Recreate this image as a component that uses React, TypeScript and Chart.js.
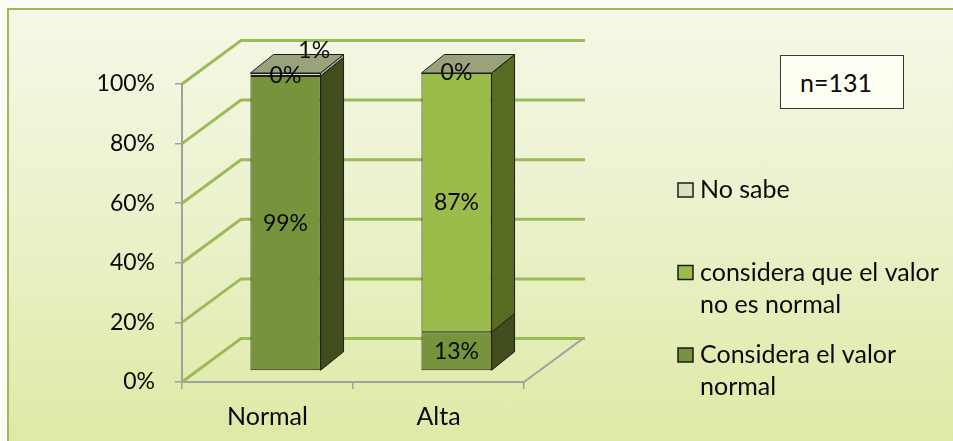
import React, { useEffect, useRef } from "react";
import { Chart, registerables } from "chart.js";

Chart.register(...registerables);

// ---------- data ----------
const categories = ["Normal", "Alta"];
const consideraNormal = [99, 13];
const consideraNoNormal = [0, 87];
const noSabe = [1, 0];
const seriesNames = [
  "Considera el valor normal",
  "considera que el valor no es normal",
  "No sabe",
];
const legendLines = [
  ["Considera el valor", "normal"],
  ["considera que el valor", "no es normal"],
  ["No sabe"],
];
const yTickValues = [0, 20, 40, 60, 80, 100];
const sampleNote = "n=131";

// ---------- style ----------
const FONT = 'Lato, "Open Sans", "DejaVu Sans", sans-serif';
const TEXT_SIZE = 25;
const DIGIT_SIZE = 23;
const frontColors = ["#77933c", "#9bbb4b", "#d7e4bd"];
const sideColors = ["#414d1c", "#576b21", "#aab58f"];
const TOP_COLOR = "#98a37b";
const EDGE = "#1c1c1c";
const GRID_GREEN = "#9bbb59";
const AXIS_GRAY = "#a0a0a0";
const TEXT = "#0a0a0a";

const BAR_SHIFT = { x: 18, y: -11 };
const BAR_DEPTH = { x: 23, y: -18.5 };
const WALL_DEPTH = { x: 59, y: -43.5 };

const LEGEND = { boxX: 678, textX: 700, firstY: 190, itemGap: 82.5, lineH: 32, boxW: 15, boxH: 14 };

function poly(ctx: CanvasRenderingContext2D, pts: number[][], fill: string) {
  ctx.beginPath();
  ctx.moveTo(pts[0][0], pts[0][1]);
  for (let i = 1; i < pts.length; i++) ctx.lineTo(pts[i][0], pts[i][1]);
  ctx.closePath();
  ctx.fillStyle = fill;
  ctx.fill();
  ctx.lineWidth = 1;
  ctx.strokeStyle = EDGE;
  ctx.stroke();
}

const threeD = {
  id: "threeD",
  beforeDatasetsDraw(chart: any) {
    const { ctx, chartArea: a } = chart;
    const y = chart.scales.y;
    ctx.save();
    ctx.lineWidth = 3;
    ctx.strokeStyle = GRID_GREEN;
    for (const v of yTickValues) {
      const py = y.getPixelForValue(v);
      ctx.beginPath();
      ctx.moveTo(a.left, py);
      ctx.lineTo(a.left + WALL_DEPTH.x, py + WALL_DEPTH.y);
      ctx.lineTo(a.right + WALL_DEPTH.x + 2, py + WALL_DEPTH.y);
      ctx.stroke();
    }
    const p0 = y.getPixelForValue(0);
    ctx.lineWidth = 2;
    ctx.strokeStyle = AXIS_GRAY;
    ctx.beginPath();
    ctx.moveTo(a.right, p0);
    ctx.lineTo(a.right + WALL_DEPTH.x, p0 + WALL_DEPTH.y);
    ctx.stroke();
    ctx.restore();
    ctx.save();
    ctx.translate(BAR_SHIFT.x, BAR_SHIFT.y);
  },
  afterDatasetsDraw(chart: any) {
    const ctx: CanvasRenderingContext2D = chart.ctx;
    ctx.restore();
    ctx.save();
    const last = chart.data.datasets.length - 1;
    const boxes: any[] = [];
    chart.data.datasets.forEach((ds: any, i: number) => {
      const meta = chart.getDatasetMeta(i);
      meta.data.forEach((el: any, j: number) => {
        const { x, y, base, width } = el.getProps(["x", "y", "base", "width"], true);
        const top = Math.min(y, base) + BAR_SHIFT.y;
        const bottom = Math.max(y, base) + BAR_SHIFT.y;
        const left = x - width / 2 + BAR_SHIFT.x;
        const right = x + width / 2 + BAR_SHIFT.x;
        poly(ctx, [
          [right, top],
          [right + BAR_DEPTH.x, top + BAR_DEPTH.y],
          [right + BAR_DEPTH.x, bottom + BAR_DEPTH.y],
          [right, bottom],
        ], sideColors[i]);
        if (i === last) {
          poly(ctx, [
            [left, top],
            [left + BAR_DEPTH.x, top + BAR_DEPTH.y],
            [right + BAR_DEPTH.x, top + BAR_DEPTH.y],
            [right, top],
          ], TOP_COLOR);
        }
        boxes.push({ i, j, v: ds.data[j], cx: x + BAR_SHIFT.x, cy: (top + bottom) / 2, top });
      });
    });
    ctx.font = `${DIGIT_SIZE}px ${FONT}`;
    ctx.textAlign = "center";
    ctx.textBaseline = "middle";
    ctx.fillStyle = TEXT;
    for (const b of boxes) {
      let cx = b.cx;
      let cy = b.cy;
      if (b.i === last && b.v > 0) {
        cx += BAR_DEPTH.x * 1.25;
        cy = b.top + BAR_DEPTH.y * 1.2;
      }
      ctx.fillText(`${b.v}%`, cx, cy);
    }
    ctx.restore();
  },
  afterDraw(chart: any) {
    const ctx: CanvasRenderingContext2D = chart.ctx;
    ctx.save();
    ctx.font = `${TEXT_SIZE}px ${FONT}`;
    ctx.textAlign = "left";
    ctx.textBaseline = "middle";
    const n = chart.data.datasets.length;
    for (let k = 0; k < n; k++) {
      const i = n - 1 - k;
      const yc = LEGEND.firstY + k * LEGEND.itemGap;
      ctx.fillStyle = frontColors[i];
      ctx.fillRect(LEGEND.boxX, yc - LEGEND.boxH / 2, LEGEND.boxW, LEGEND.boxH);
      ctx.lineWidth = 1.5;
      ctx.strokeStyle = EDGE;
      ctx.strokeRect(LEGEND.boxX, yc - LEGEND.boxH / 2, LEGEND.boxW, LEGEND.boxH);
      ctx.fillStyle = TEXT;
      legendLines[i].forEach((line, l) => {
        ctx.fillText(line, LEGEND.textX, yc + l * LEGEND.lineH);
      });
    }
    ctx.restore();
  },
};

export default function App() {
  const ref = useRef<HTMLCanvasElement | null>(null);

  useEffect(() => {
    if (!ref.current) return;
    Chart.defaults.font.family = FONT;
    const datasets = [consideraNormal, consideraNoNormal, noSabe].map((d, i) => ({
      label: seriesNames[i],
      data: d,
      backgroundColor: frontColors[i],
      borderColor: EDGE,
      borderWidth: 1,
      borderSkipped: false as any,
      barPercentage: 0.41,
      categoryPercentage: 1,
      clip: false as any,
    }));
    const chart = new Chart(ref.current, {
      type: "bar",
      data: { labels: categories, datasets },
      plugins: [threeD],
      options: {
        animation: false,
        responsive: false,
        maintainAspectRatio: false,
        layout: { padding: { left: 0, top: 84, right: 429, bottom: 0 } },
        plugins: { legend: { display: false }, tooltip: { enabled: false } },
        scales: {
          x: {
            stacked: true,
            grid: { display: true, drawOnChartArea: false, drawTicks: true, tickLength: 7, color: AXIS_GRAY, lineWidth: 1.5 },
            border: { display: true, color: AXIS_GRAY, width: 2 },
            ticks: { color: TEXT, font: { size: TEXT_SIZE, family: FONT }, padding: 13 },
            afterFit: (s: any) => { s.height = 59; },
          },
          y: {
            stacked: true,
            min: 0,
            max: 100,
            grid: { display: true, drawOnChartArea: false, drawTicks: true, tickLength: 7, color: AXIS_GRAY, lineWidth: 1.5 },
            border: { display: true, color: AXIS_GRAY, width: 2 },
            ticks: {
              stepSize: 20,
              color: TEXT,
              font: { size: DIGIT_SIZE, family: FONT },
              padding: 20,
              callback: (v: any) => `${v}%`,
            },
            afterFit: (s: any) => { s.width = 182; },
          },
        },
      },
    });
    return () => chart.destroy();
  }, []);

  return (
    <div style={{ position: "absolute", left: 0, top: 0, width: 953, height: 441, overflow: "hidden", background: "#fdfcf6" }}>
      <div
        style={{
          position: "absolute",
          left: 7,
          top: 8,
          width: 960,
          height: 450,
          boxSizing: "border-box",
          border: `2px solid ${GRID_GREEN}`,
          background: "linear-gradient(to bottom, #f5f8e7 0%, #ebf2cc 45%, #dde9a3 100%)",
        }}
      />
      <canvas ref={ref} width={953} height={441} style={{ position: "absolute", left: 0, top: 0, width: 953, height: 441 }} />
      <div
        style={{
          position: "absolute",
          left: 780,
          top: 55,
          width: 124,
          height: 54,
          boxSizing: "border-box",
          border: "1px solid #3a3a3a",
          background: "#fdfff2",
          fontFamily: FONT,
          fontSize: TEXT_SIZE,
          color: TEXT,
          lineHeight: "52px",
          paddingLeft: 19,
        }}
      >
        {sampleNote}
      </div>
    </div>
  );
}
